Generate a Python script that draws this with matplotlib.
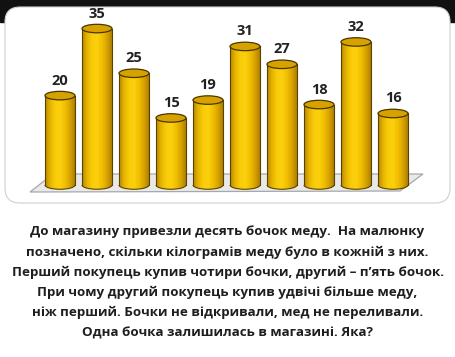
import numpy as np
import matplotlib
matplotlib.use("Agg")
import matplotlib.pyplot as plt
from matplotlib.patches import Rectangle, Ellipse, Polygon, FancyBboxPatch, Arc
from matplotlib.colors import LinearSegmentedColormap

values = [20, 35, 25, 15, 19, 31, 27, 18, 32, 16]
labels = [str(v) for v in values]
text_lines = [
    "До магазину привезли десять бочок меду.  На малюнку",
    "позначено, скільки кілограмів меду було в кожній з них.",
    "Перший покупець купив чотири бочки, другий – п’ять бочок.",
    "При чому другий покупець купив удвічі більше меду,",
    "ніж перший. Бочки не відкривали, мед не переливали.",
    "Одна бочка залишилась в магазині. Яка?",
]

W, H = 455, 357
fig = plt.figure(figsize=(W / 100, H / 100), dpi=100)
fig.patch.set_facecolor("white")

# background frame (thin dark top strip with rounded white panel)
bg = fig.add_axes([0, 0, 1, 1])
bg.set_xlim(0, W)
bg.set_ylim(H, 0)
bg.axis("off")
bg.add_patch(Rectangle((0, 0), W, 22, color="#111111", zorder=0))
bg.add_patch(FancyBboxPatch((5, 7), W - 10, 196, boxstyle="round,pad=0,rounding_size=15",
                            facecolor="white", edgecolor="#d0d0d0", lw=0.8, zorder=1))

# chart axes in data coordinates
px_per_unit = 4.47
base_px = 185.0
step_px = 37.0
x0_px = 60.0
ax_left_px, ax_right_px = 8, 447
ax_top_px, ax_bot_px = 10, 200
ax = fig.add_axes([ax_left_px / W, (H - ax_bot_px) / H,
                   (ax_right_px - ax_left_px) / W, (ax_bot_px - ax_top_px) / H])
ax.set_xlim((ax_left_px - x0_px) / step_px, (ax_right_px - x0_px) / step_px)
ax.set_ylim((base_px - ax_bot_px) / px_per_unit, (base_px - ax_top_px) / px_per_unit)
ax.axis("off")
ax.patch.set_alpha(0)

ux = 1 / step_px          # data units per px (x)
uy = 1 / px_per_unit      # data units per px (y)

# floor
floor = Polygon([(-30 * ux, -7 * uy), (340 * ux, -6 * uy), (363 * ux, 11 * uy), (-7 * ux, 11 * uy)],
                closed=True, facecolor="#e9e9e9", edgecolor="#a8a8a8", lw=0.9, zorder=1)
ax.add_patch(floor)

bw = 30 * ux
eh = 8.5 * uy
cmap = LinearSegmentedColormap.from_list(
    "gold", ["#b88a00", "#e6b400", "#f9cc08", "#fbd010", "#f2c000", "#d9a500", "#b08000"])
grad = np.linspace(0, 1, 64).reshape(1, -1)

for i, v in enumerate(values):
    xl = i - bw / 2
    rect = Rectangle((xl, 0), bw, v, facecolor="none", edgecolor="none")
    ax.add_patch(rect)
    im = ax.imshow(grad, cmap=cmap, extent=(xl, xl + bw, -eh, v), aspect="auto",
                   interpolation="bilinear", zorder=3)
    im.set_clip_path(rect)
    bot = Ellipse((i, 0), bw, eh, facecolor="none", edgecolor="none")
    ax.add_patch(bot)
    im2 = ax.imshow(grad, cmap=cmap, extent=(xl, xl + bw, -eh, v), aspect="auto",
                    interpolation="bilinear", zorder=3)
    im2.set_clip_path(bot)
    ax.plot([xl, xl], [0, v], color="#5a4300", lw=0.8, zorder=4)
    ax.plot([xl + bw, xl + bw], [0, v], color="#5a4300", lw=0.8, zorder=4)
    ax.add_patch(Arc((i, 0), bw, eh, theta1=180, theta2=360, color="#5a4300", lw=0.8, zorder=4))
    ax.add_patch(Ellipse((i, v), bw, eh, facecolor="#d6a200", edgecolor="#4a3500", lw=0.9, zorder=5))
    ax.text(i, v + 15 * uy, labels[i], ha="center", va="center", fontsize=10.5,
            fontweight="bold", color="#222222", zorder=6, family="Open Sans")

# text block
ys = [232, 252, 272, 292, 312, 333]
for line, y in zip(text_lines, ys):
    fig.text(0.5, 1 - y / H, line, ha="center", va="center", fontsize=9.6,
             fontweight="bold", color="#1e1e1e", family="Open Sans")

fig.savefig("out.png", dpi=100, facecolor="white")
